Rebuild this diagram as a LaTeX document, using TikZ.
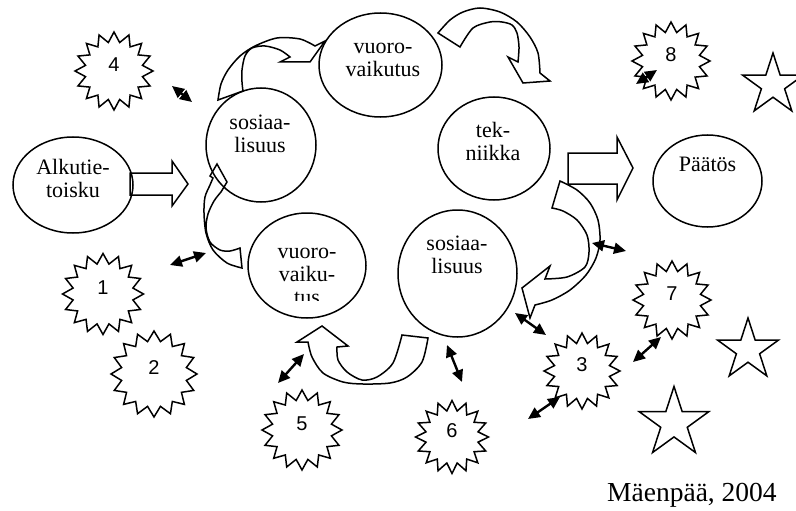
\documentclass[tikz,border=0pt]{standalone}
\usepackage{fontspec}
\setmainfont{Liberation Serif}
\newfontfamily\numfont{Liberation Sans}
\usetikzlibrary{arrows.meta}
\usetikzlibrary{shapes.geometric}

\begin{document}
\begin{tikzpicture}[
  x=1pt, y=-1pt,
  bubble/.style={ellipse, draw=black, line width=1.5pt, inner sep=0pt},
  txt/.style={align=center, inner sep=0pt,
    font=\fontsize{22}{23}\selectfont},
  seal/.style={star, star points=16, star point height=10pt,
    minimum size=78pt, draw=black, line width=1.5pt, inner sep=0pt,
    text depth=12pt, font=\numfont\fontsize{20}{22}\selectfont},
  pstar/.style={star, star points=5, star point ratio=2.618,
    minimum size=64pt, draw=black, line width=1.5pt, inner sep=0pt},
  blockarrow/.style={draw=black, line width=1.5pt, line join=miter},
  dbl/.style={{Triangle[length=12pt,width=11pt]}-{Triangle[length=12pt,width=11pt]},
    line width=2.4pt},
  credit/.style={font=\fontsize{27.5}{29}\selectfont, inner sep=0pt},
]
\useasboundingbox (0,0) rectangle (796,511);

% === Ellipses ===
\node[bubble, minimum width=120pt, minimum height=96pt] (alku) at (73,185) {};
\node[txt] (alkutxt) at (73,178.5) {Alkutie-\\toisku};

\node[bubble, minimum width=110pt, minimum height=114pt] (sos1) at (261,145) {};
\node[txt] (sos1txt) at (260,134) {sosiaa-\\lisuus};

\node[bubble, minimum width=123pt, minimum height=104pt] (vv1) at (380.5,65) {};
\node[txt] (vv1txt) at (383,60) {vuoro-\\vaikutus};

\node[bubble, minimum width=112pt, minimum height=103pt] (tek) at (494,148.5) {};
\node[txt] (tektxt) at (493,141.5) {tek-\\niikka};

\node[bubble, minimum width=109pt, minimum height=92pt] (paatos) at (707.5,181) {};
\node[txt] (paatostxt) at (707.5,164) {Päätös};

\node[bubble, minimum width=118pt, minimum height=105pt] (vv2) at (307,265.5) {};
\begin{scope}
  \clip (240,200) rectangle (375,300);
  \node[txt] (vv2txt) at (307,276) {vuoro-\\vaiku-\\tus};
\end{scope}

\node[bubble, minimum width=119pt, minimum height=127pt] (sos2) at (457.5,273.5) {};
\node[txt] (sos2txt) at (457,254.5) {sosiaa-\\lisuus};

% === Straight block arrows ===
\draw[blockarrow] (130,173) -- (172,173) -- (172,161) -- (188,184)
  -- (172,206) -- (172,195) -- (130,195) -- cycle;
\draw[blockarrow] (568,153) -- (617,153) -- (617,137) -- (633,168)
  -- (617,200) -- (617,184) -- (568,184) -- cycle;

% === Curved block arrows ===
% sosiaalisuus -> vuorovaikutus
\draw[blockarrow] plot[smooth] coordinates {(218,100) (221,84) (228,70)
    (240,56) (255,46) (277,38) (300,39) (315,46)}
  -- (325,41) -- (310,62) -- (280,62) -- (290,57)
  -- plot[smooth] coordinates {(290,57) (280,50) (265,46) (252,48)
    (245,56) (242,70) (242,82) (243,91)}
  -- cycle;
% vuorovaikutus -> tekniikka
\draw[blockarrow] plot[smooth] coordinates {(438,33) (450,20) (463,12)
    (480,8) (500,12) (517,22) (530,37) (538,53) (540,73)}
  -- (550,81) -- (523,83) -- (508,57) -- (518,62)
  -- plot[smooth] coordinates {(518,62) (519,47) (517,33) (512,25)
    (502,22) (490,22) (473,28) (460,47)}
  -- cycle;
% up into sosiaalisuus
\draw[blockarrow] plot[smooth] coordinates {(242,268) (227,263) (213,250)
    (206,233) (204,213) (205,197) (210,185) (213,178)}
  -- (210,176) -- (217,164) -- (227,182) -- (221,192)
  -- plot[smooth] coordinates {(221,192) (214,201) (208,214) (206,228)
    (210,242) (220,250) (230,251) (240,248)}
  -- cycle;
% sosiaalisuus -> vuorovaikutus (bottom)
\draw[blockarrow] plot[smooth] coordinates {(428,338) (422,362) (407,377)
    (390,383) (363,384) (343,382) (323,373) (312,357) (308,342)}
  -- (297,342) -- (322,326) -- (348,346) -- (337,347)
  -- plot[smooth] coordinates {(337,347) (338,360) (347,372) (362,380)
    (377,377) (393,363) (402,335)}
  -- cycle;
% tekniikka -> sosiaalisuus
\draw[blockarrow] plot[smooth] coordinates {(560,181) (577,190) (590,203)
    (598,220) (600,240) (596,258) (586,275) (570,290) (552,300) (535,305)}
  -- (530,318) -- (522,288) -- (550,266) -- (545,279)
  -- plot[smooth] coordinates {(545,279) (567,277) (585,267) (589,252)
    (587,235) (577,220) (563,211) (552,208)}
  -- cycle;

% === Seals ===
\node[seal] (s4) at (114,71) {4};
\node[seal, minimum size=81pt] (s1) at (103,294) {1};
\node[seal, minimum size=86pt] (s2) at (154,374) {2};
\node[seal, minimum size=80pt] (s5) at (302,430) {5};
\node[seal, minimum size=73pt] (s6) at (452,437) {6};
\node[seal, minimum size=76pt] (s3) at (582,371) {3};
\node[seal] (s7) at (672,300) {7};
\node[seal] (s8) at (671,61) {8};

% === Stars ===
\node[pstar] (st1) at (773,85) {};
\node[pstar] (st2) at (748,350) {};
\node[pstar, minimum size=73pt] (st3) at (674,423) {};

% === Double arrows ===
\coordinate (d4a) at (172,86);  \coordinate (d4b) at (192,102);
\coordinate (d1a) at (170,265); \coordinate (d1b) at (206,253);
\coordinate (d8a) at (636,84);  \coordinate (d8b) at (657,70);
\coordinate (dta) at (592,243); \coordinate (dtb) at (626,251);
\coordinate (d3a) at (515,313); \coordinate (d3b) at (546,335);
\coordinate (d7a) at (633,362); \coordinate (d7b) at (661,337);
\coordinate (d3c) at (528,419); \coordinate (d3d) at (560,397);
\coordinate (d5a) at (278,383); \coordinate (d5b) at (304,354);
\coordinate (d6a) at (447,345); \coordinate (d6b) at (462,382);

\draw[dbl] (d4a) -- (d4b);
\draw[dbl] (d1a) -- (d1b);
\draw[dbl] (d8a) -- (d8b);
\draw[dbl] (dta) -- (dtb);
\draw[dbl] (d3a) -- (d3b);
\draw[dbl] (d7a) -- (d7b);
\draw[dbl] (d3c) -- (d3d);
\draw[dbl] (d5a) -- (d5b);
\draw[dbl] (d6a) -- (d6b);

% Source
\node[credit, anchor=base west] (src) at (607,501) {Mäenpää, 2004};

\end{tikzpicture}
\end{document}
